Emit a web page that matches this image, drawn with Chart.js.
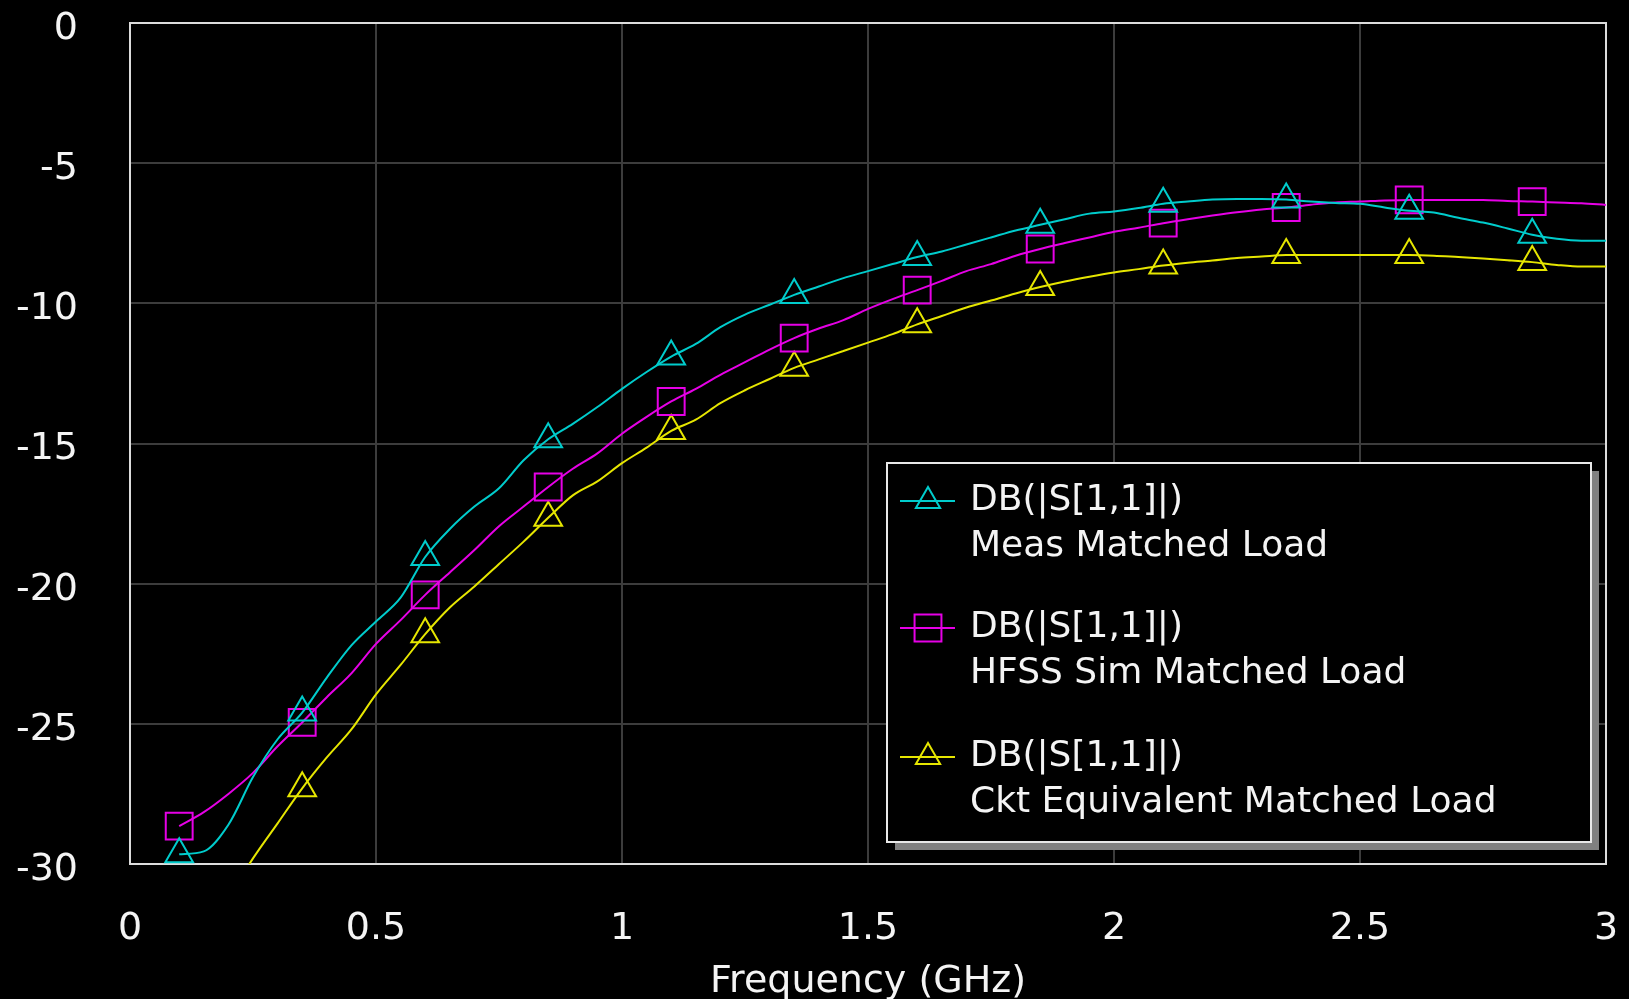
<!DOCTYPE html>
<html>
<head>
<meta charset="utf-8">
<script src="https://cdn.jsdelivr.net/npm/chart.js@4.4.1/dist/chart.umd.min.js"></script>
<style>
  html, body { margin: 0; padding: 0; background: #000; }
  canvas { display: block; }
</style>
</head>
<body>
<canvas id="s11Chart" width="1629" height="999"></canvas>
<script>
// Frequency sweep (GHz)
const freqs = [
    0.10, 0.15, 0.20, 0.25, 0.30, 0.35, 0.40, 0.45, 0.50, 0.55,
    0.60, 0.65, 0.70, 0.75, 0.80, 0.85, 0.90, 0.95, 1.00, 1.05,
    1.10, 1.15, 1.20, 1.25, 1.30, 1.35, 1.40, 1.45, 1.50, 1.55,
    1.60, 1.65, 1.70, 1.75, 1.80, 1.85, 1.90, 1.95, 2.00, 2.05,
    2.10, 2.15, 2.20, 2.25, 2.30, 2.35, 2.40, 2.45, 2.50, 2.55,
    2.60, 2.65, 2.70, 2.75, 2.80, 2.85, 2.90, 2.95, 3.00
];

// frequencies that get a marker symbol
const markerFreqs = [0.10, 0.35, 0.60, 0.85, 1.10, 1.35, 1.60, 1.85, 2.10, 2.35, 2.60, 2.85];

// |S11| in dB
const measMatched = [
    -29.65, -29.55, -28.6, -26.9, -25.55, -24.6, -23.35, -22.2, -21.35, -20.5,
    -19.05, -18.05, -17.25, -16.6, -15.6, -14.85, -14.3, -13.7, -13.05, -12.45,
    -11.9, -11.45, -10.85, -10.4, -10.05, -9.7, -9.4, -9.1, -8.85, -8.6,
    -8.35, -8.15, -7.9, -7.65, -7.4, -7.2, -7.0, -6.8, -6.72, -6.6,
    -6.45, -6.37, -6.3, -6.28, -6.28, -6.3, -6.37, -6.42, -6.45, -6.58,
    -6.7, -6.76, -6.95, -7.12, -7.33, -7.55, -7.7, -7.77, -7.77
];
const hfssMatched = [
    -28.65, -28.15, -27.5, -26.75, -25.8, -24.95, -24.05, -23.2, -22.15, -21.3,
    -20.4, -19.6, -18.8, -17.95, -17.25, -16.55, -15.9, -15.35, -14.65, -14.05,
    -13.5, -13.05, -12.55, -12.1, -11.65, -11.24, -10.9, -10.6, -10.2, -9.85,
    -9.53, -9.2, -8.85, -8.6, -8.3, -8.06, -7.85, -7.65, -7.45, -7.3,
    -7.14, -7.0, -6.87, -6.75, -6.65, -6.58, -6.48, -6.4, -6.37, -6.33,
    -6.31, -6.31, -6.31, -6.31, -6.35, -6.37, -6.4, -6.43, -6.49
];
const cktMatched = [
    -34.0, -32.6, -31.2, -29.8, -28.55, -27.3, -26.2, -25.2, -23.95, -22.9,
    -21.8, -20.85, -20.1, -19.3, -18.5, -17.65, -16.85, -16.35, -15.7, -15.15,
    -14.55, -14.15, -13.56, -13.1, -12.7, -12.3, -12.0, -11.7, -11.4, -11.1,
    -10.75, -10.45, -10.15, -9.9, -9.65, -9.42, -9.22, -9.05, -8.9, -8.78,
    -8.65, -8.55, -8.47, -8.38, -8.33, -8.28, -8.28, -8.28, -8.28, -8.28,
    -8.28, -8.3, -8.35, -8.4, -8.46, -8.53, -8.63, -8.69, -8.69
];

const traceName = 'DB(|S[1,1]|)';
const seriesNames = ['Meas Matched Load', 'HFSS Sim Matched Load', 'Ckt Equivalent Matched Load'];
const seriesColors = ['#00cccc', '#e600e6', '#e6e600'];
const seriesMarkers = ['triangle', 'rect', 'triangle'];

// axis ticks
const xTickValues = [0, 0.5, 1, 1.5, 2, 2.5, 3];
const yTickValues = [-30, -25, -20, -15, -10, -5, 0];

function toPoints(values) {
    return freqs.map((f, i) => ({ x: f, y: values[i] }));
}

function markerRadius(style) {
    return style === 'rect' ? 19 : 16;
}

function makeDataset(values, i) {
    const style = seriesMarkers[i];
    return {
        label: seriesNames[i],
        data: toPoints(values),
        borderColor: seriesColors[i],
        borderWidth: 2,
        cubicInterpolationMode: 'monotone',
        pointStyle: style,
        pointRadius: ctx => markerFreqs.includes(freqs[ctx.dataIndex]) ? markerRadius(style) : 0,
        pointHoverRadius: 0,
        pointBorderColor: seriesColors[i],
        pointBackgroundColor: 'rgba(0,0,0,0)',
        pointBorderWidth: 2
    };
}

// keep the plot area fixed: no extra room for the edge labels
function fixScale(size) {
    return scale => {
        if (scale.isHorizontal()) scale.height = size; else scale.width = size;
        scale.paddingTop = 0;
        scale.paddingBottom = 0;
        scale.paddingLeft = 0;
        scale.paddingRight = 0;
    };
}

// white frame round the plot area
const frameBox = {
    id: 'frameBox',
    beforeDatasetsDraw(chart) {
        const a = chart.chartArea;
        const ctx = chart.ctx;
        ctx.save();
        ctx.strokeStyle = '#dcdcdc';
        ctx.lineWidth = 2;
        ctx.strokeRect(a.left, a.top, a.right - a.left, a.bottom - a.top);
        ctx.restore();
    }
};

// legend box with shadow, two text lines per trace
const traceLegend = {
    id: 'traceLegend',
    afterDraw(chart) {
        const ctx = chart.ctx;
        const box = { x: 887, y: 463, w: 704, h: 379 };
        ctx.save();
        ctx.fillStyle = '#808080';
        ctx.fillRect(box.x + 8, box.y + 8, box.w, box.h);
        ctx.fillStyle = '#000';
        ctx.fillRect(box.x, box.y, box.w, box.h);
        ctx.strokeStyle = '#e8e8e8';
        ctx.lineWidth = 2;
        ctx.strokeRect(box.x, box.y, box.w, box.h);

        ctx.font = '36px "DejaVu Sans"';
        ctx.textBaseline = 'middle';
        ctx.textAlign = 'left';
        const rowTop = [501, 628, 757];
        chart.data.datasets.forEach((ds, i) => {
            const y = rowTop[i];
            ctx.strokeStyle = ds.borderColor;
            ctx.lineWidth = 2;
            ctx.beginPath();
            ctx.moveTo(900, y);
            ctx.lineTo(955, y);
            ctx.stroke();
            const r = seriesMarkers[i] === 'rect' ? 19 : 14;
            ctx.fillStyle = 'rgba(0,0,0,0)';
            Chart.helpers.drawPoint(ctx, { pointStyle: seriesMarkers[i], radius: r, borderWidth: 2 }, 928, y);
            ctx.fillStyle = '#f4f4f4';
            ctx.fillText(traceName, 970, y);
            ctx.fillText(ds.label, 970, y + 46);
        });
        ctx.restore();
    }
};

const ctx = document.getElementById('s11Chart').getContext('2d');

new Chart(ctx, {
    type: 'line',
    data: {
        datasets: [measMatched, hfssMatched, cktMatched].map(makeDataset)
    },
    options: {
        responsive: false,
        animation: false,
        layout: { padding: { top: 23, right: 23, left: 0, bottom: 0 } },
        plugins: {
            legend: { display: false },
            tooltip: { enabled: false }
        },
        scales: {
            x: {
                type: 'linear',
                min: 0,
                max: 3,
                afterBuildTicks: scale => { scale.ticks = xTickValues.map(v => ({ value: v })); },
                afterFit: fixScale(135),
                grid: { color: '#3c3c3c', lineWidth: 2, drawTicks: false },
                border: { display: false },
                ticks: {
                    color: '#f4f4f4',
                    padding: 42,
                    maxRotation: 0,
                    font: { family: 'DejaVu Sans', size: 38 },
                    callback: v => String(v)
                },
                title: {
                    display: true,
                    text: 'Frequency (GHz)',
                    color: '#f4f4f4',
                    padding: { top: 0, bottom: -6 },
                    font: { family: 'DejaVu Sans', size: 38 }
                }
            },
            y: {
                min: -30,
                max: 0,
                afterBuildTicks: scale => { scale.ticks = yTickValues.map(v => ({ value: v })); },
                afterFit: fixScale(130),
                grid: { color: '#3c3c3c', lineWidth: 2, drawTicks: false },
                border: { display: false },
                ticks: {
                    color: '#f4f4f4',
                    padding: 52,
                    labelOffset: 6,
                    font: { family: 'DejaVu Sans', size: 38 },
                    callback: v => String(v)
                }
            }
        }
    },
    plugins: [frameBox, traceLegend]
});
</script>
</body>
</html>
